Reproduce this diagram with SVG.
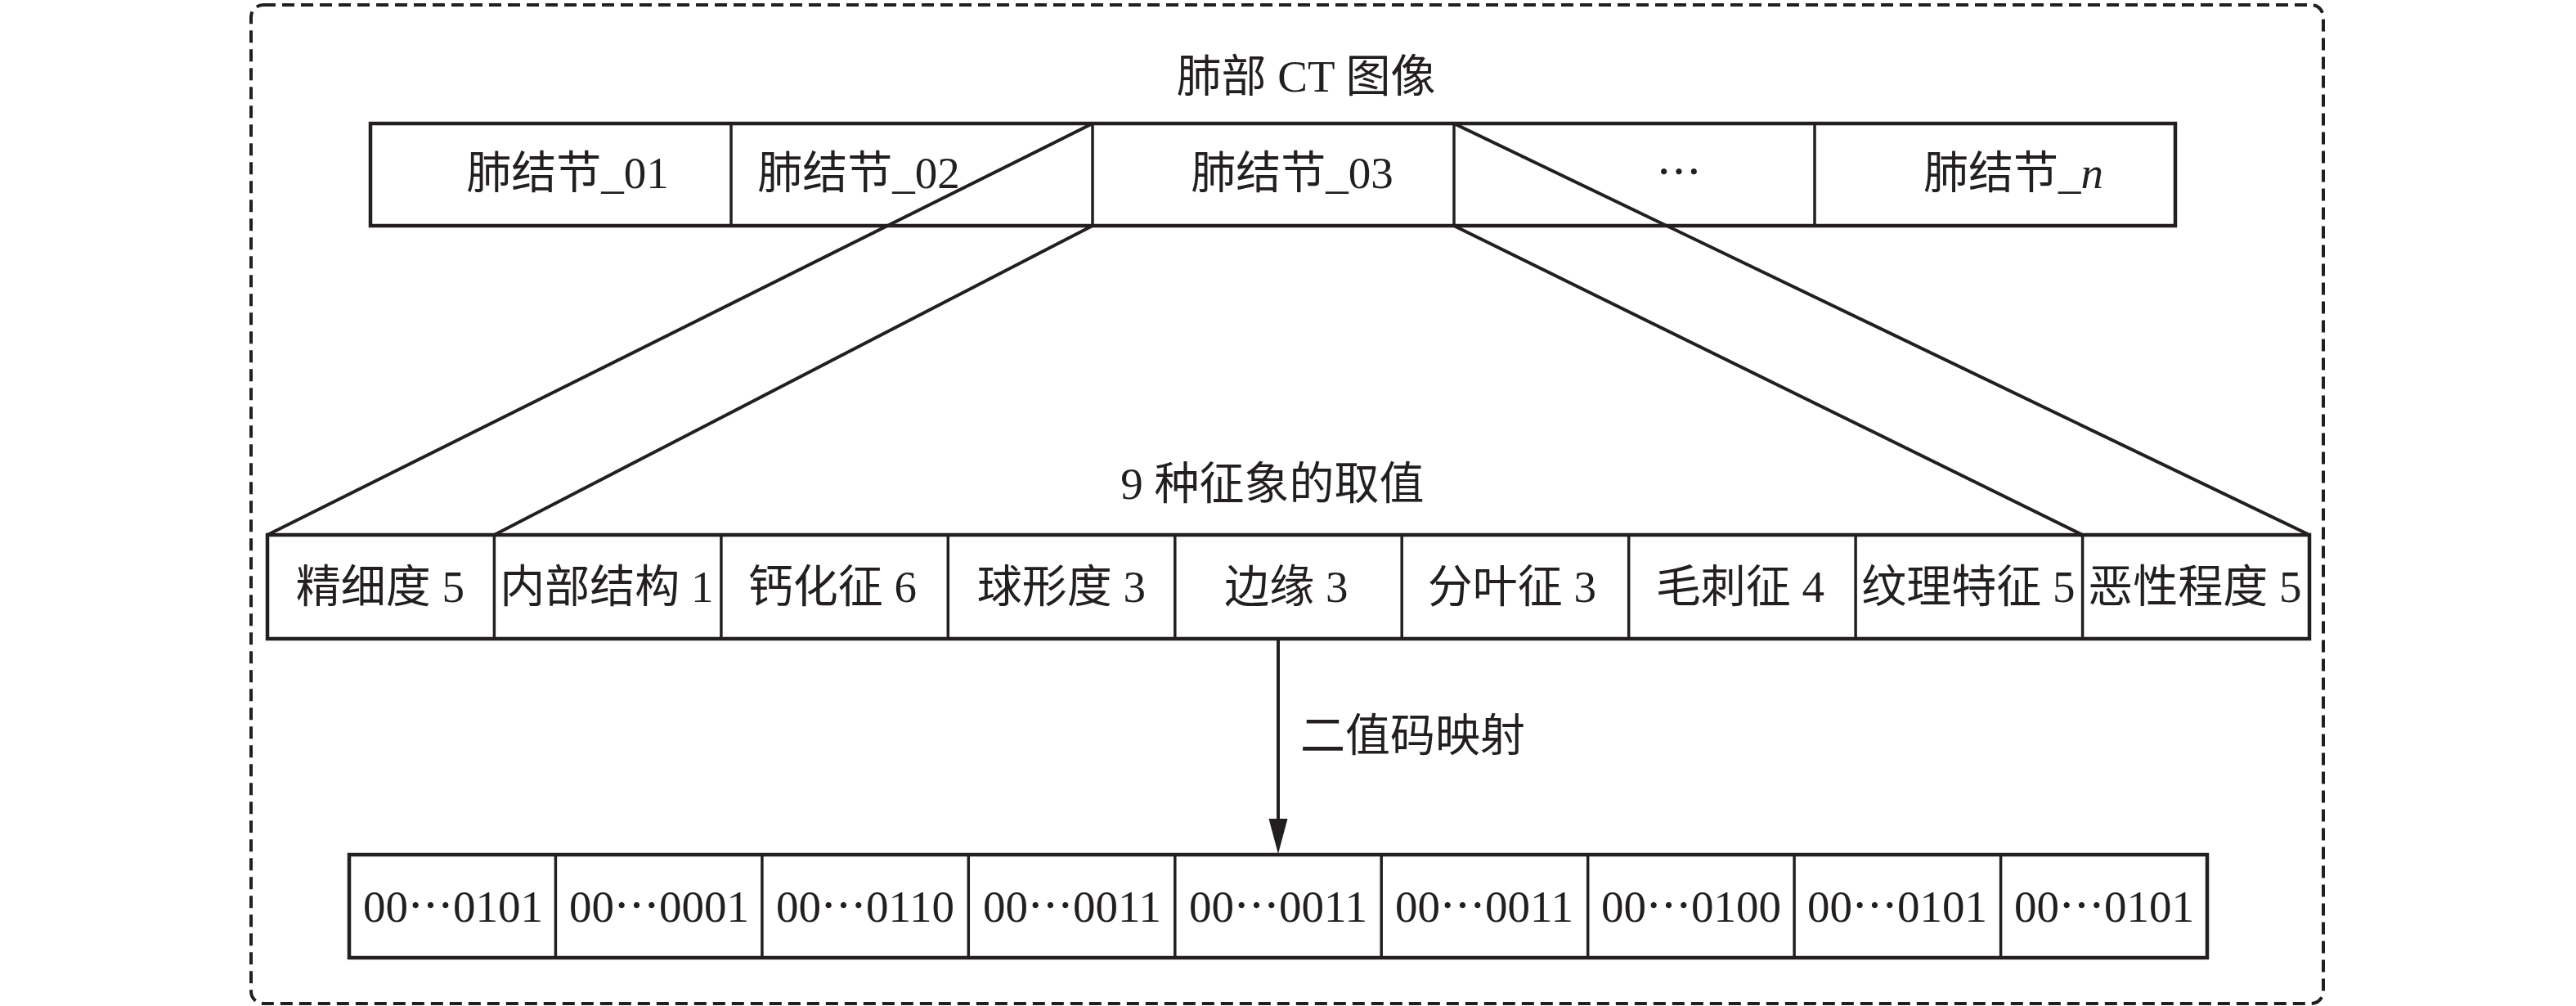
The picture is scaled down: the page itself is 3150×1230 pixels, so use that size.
<svg xmlns="http://www.w3.org/2000/svg" width="3150" height="1230" viewBox="0 0 3150 1230">
<style>
  .frame { fill: none; stroke: #231f20; stroke-width: 4; stroke-dasharray: 15 8; }
  .box { fill: #ffffff; stroke: #231f20; stroke-width: 4.5; }
  .div { stroke: #231f20; stroke-width: 3.5; }
  .t { font-family: 'Liberation Serif', 'Noto Sans CJK SC', serif; font-size: 55px; fill: #231f20; text-anchor: middle; }
  .cj { font-family: 'Noto Sans CJK SC', 'Liberation Serif', sans-serif; }
  .it { font-style: italic; }
  .con { stroke: #231f20; stroke-width: 4; fill: none; }
  .head { fill: #231f20; }
</style>
<rect width="3150" height="1230" fill="#ffffff"/>
<g id="frame">
  <rect class="frame" x="307" y="6" width="2534" height="1221" rx="15" ry="15"/>
</g>
<g id="title-ct">
  <text class="t" x="1597" y="112">肺部 CT 图像</text>
</g>
<g id="nodules">
  <rect class="box" x="453" y="151" width="2207" height="125"/>
  <line class="div" x1="894" y1="151" x2="894" y2="276"/>
  <line class="div" x1="1336" y1="151" x2="1336" y2="276"/>
  <line class="div" x1="1778" y1="151" x2="1778" y2="276"/>
  <line class="div" x1="2219" y1="151" x2="2219" y2="276"/>
</g>
<g id="nodule-01"><text class="t" x="694" y="230">肺结节_01</text></g>
<g id="nodule-02"><text class="t" x="1050" y="230">肺结节_02</text></g>
<g id="nodule-03"><text class="t" x="1580" y="230">肺结节_03</text></g>
<g id="nodule-dots"><text class="t" x="2053" y="230"><tspan class="cj">…</tspan></text></g>
<g id="nodule-n"><text class="t" x="2462" y="230">肺结节_<tspan class="it">n</tspan></text></g>
<g id="title-signs">
  <text class="t" x="1556" y="610">9 种征象的取值</text>
</g>
<g id="signs">
  <rect class="box" x="327" y="654" width="2497" height="127"/>
  <line class="div" x1="604.4" y1="654" x2="604.4" y2="781"/>
  <line class="div" x1="881.9" y1="654" x2="881.9" y2="781"/>
  <line class="div" x1="1159.3" y1="654" x2="1159.3" y2="781"/>
  <line class="div" x1="1436.8" y1="654" x2="1436.8" y2="781"/>
  <line class="div" x1="1714.2" y1="654" x2="1714.2" y2="781"/>
  <line class="div" x1="1991.7" y1="654" x2="1991.7" y2="781"/>
  <line class="div" x1="2269.1" y1="654" x2="2269.1" y2="781"/>
  <line class="div" x1="2546.6" y1="654" x2="2546.6" y2="781"/>
</g>
<g id="sign-1"><text class="t" x="465" y="736">精细度 5</text></g>
<g id="sign-2"><text class="t" x="742" y="736">内部结构 1</text></g>
<g id="sign-3"><text class="t" x="1018" y="736">钙化征 6</text></g>
<g id="sign-4"><text class="t" x="1298" y="736">球形度 3</text></g>
<g id="sign-5"><text class="t" x="1573" y="736">边缘 3</text></g>
<g id="sign-6"><text class="t" x="1849" y="736">分叶征 3</text></g>
<g id="sign-7"><text class="t" x="2128" y="736">毛刺征 4</text></g>
<g id="sign-8"><text class="t" x="2407" y="736">纹理特征 5</text></g>
<g id="sign-9"><text class="t" x="2684" y="736">恶性程度 5</text></g>
<g id="codes">
  <rect class="box" x="427" y="1045" width="2272" height="126"/>
  <line class="div" x1="679.4" y1="1045" x2="679.4" y2="1171"/>
  <line class="div" x1="931.9" y1="1045" x2="931.9" y2="1171"/>
  <line class="div" x1="1184.3" y1="1045" x2="1184.3" y2="1171"/>
  <line class="div" x1="1436.8" y1="1045" x2="1436.8" y2="1171"/>
  <line class="div" x1="1689.2" y1="1045" x2="1689.2" y2="1171"/>
  <line class="div" x1="1941.7" y1="1045" x2="1941.7" y2="1171"/>
  <line class="div" x1="2194.1" y1="1045" x2="2194.1" y2="1171"/>
  <line class="div" x1="2446.6" y1="1045" x2="2446.6" y2="1171"/>
</g>
<g id="code-1"><text class="t" x="554" y="1127">00<tspan class="cj">…</tspan>0101</text></g>
<g id="code-2"><text class="t" x="806" y="1127">00<tspan class="cj">…</tspan>0001</text></g>
<g id="code-3"><text class="t" x="1058" y="1127">00<tspan class="cj">…</tspan>0110</text></g>
<g id="code-4"><text class="t" x="1311" y="1127">00<tspan class="cj">…</tspan>0011</text></g>
<g id="code-5"><text class="t" x="1563" y="1127">00<tspan class="cj">…</tspan>0011</text></g>
<g id="code-6"><text class="t" x="1815" y="1127">00<tspan class="cj">…</tspan>0011</text></g>
<g id="code-7"><text class="t" x="2068" y="1127">00<tspan class="cj">…</tspan>0100</text></g>
<g id="code-8"><text class="t" x="2320" y="1127">00<tspan class="cj">…</tspan>0101</text></g>
<g id="code-9"><text class="t" x="2573" y="1127">00<tspan class="cj">…</tspan>0101</text></g>
<g id="connectors">
  <line class="con" x1="1336" y1="151" x2="327" y2="654"/>
  <line class="con" x1="1336" y1="276" x2="604.4" y2="654"/>
  <line class="con" x1="1778" y1="151" x2="2824" y2="654"/>
  <line class="con" x1="1778" y1="276" x2="2546.6" y2="654"/>
  <line class="con" x1="1563" y1="781" x2="1563" y2="1003"/>
  <polygon class="head" points="1551.5,1001 1574.5,1001 1563,1044"/>
  <text class="t" x="1590" y="918" style="text-anchor:start">二值码映射</text>
</g>
</svg>
